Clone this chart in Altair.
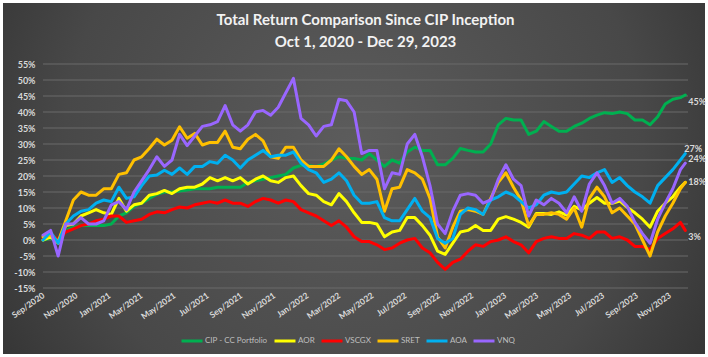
import altair as alt
import pandas as pd

# ---------------- data ----------------
dates = pd.date_range("2020-09-30", periods=85, freq="14D").strftime("%Y-%m-%dT00:00:00").tolist() + ["2023-12-29T00:00:00"]

series_names = ["CIP - CC Portfolio", "AOR", "VSCGX", "SRET", "AOA", "VNQ"]
series_colors = ["#00b050", "#ffff00", "#ff0000", "#ffc000", "#00b0f0", "#9966ff"]

cip = [0, 0.5, -0.5, 3, 4, 4.5, 4.5, 4.5, 4.5, 5, 7.5, 8.5, 10.5, 11.5, 13, 14.3, 15, 15, 15.3, 15.6, 16, 16,
       16, 16.5, 16.5, 16.5, 16.5, 18, 18.5, 19, 19.5, 20, 20.5, 22.5, 23.3, 23.3, 22.9, 23.8, 25, 26, 25.5, 25.5, 25,
       27, 25, 23, 25, 24, 27.5, 29, 28, 28, 23.5, 23.5, 25.5, 28.6, 28, 27.5, 27.5, 30, 36, 38, 37.5, 37.5,
       33, 34, 37, 35.5, 34, 34, 35.5, 36.5, 38, 39, 39.8, 39.5, 40, 39.5, 37.5, 37.5, 36, 38.5, 42.5, 44, 44.5, 45.3]

aor = [0, 1, -1, 4.5, 5, 7.5, 8.5, 9.5, 8.5, 8, 13, 9, 11, 11.5, 14, 14.5, 15.5, 14.5, 16, 16.5, 16.5, 17.5,
       19.5, 18.5, 19.5, 18.5, 19.5, 17.5, 19, 20, 18.5, 18, 19.5, 20, 17, 14.5, 14, 12, 11, 14.5, 12, 8.5, 5.5,
       5.5, 5, 1, 2.5, 3, 7, 7, 4.5, 1.5, -3.5, -4.5, -1, 2.5, 3, 4.5, 3, 3, 6.5, 7.3, 6.5, 5.5,
       4, 8.3, 8.3, 8, 8.8, 7.8, 10.5, 9.4, 11.5, 13.3, 11.5, 11.5, 12.2, 10.2, 8.5, 6.5, 4, 9, 11.5, 13.5, 16.5, 18]

vscgx = [0.5, 2, 0, 2.5, 3.5, 4.5, 5, 6, 6.5, 7.5, 7.5, 5.5, 6, 6.5, 8, 8.8, 8.5, 9.5, 10.3, 10, 11, 11.5,
         12, 11.5, 12.5, 11.5, 11.5, 10.5, 12, 13, 12.5, 11.5, 12.5, 12, 9.5, 8.5, 7.5, 6, 4.5, 6, 4, 1, -0.5,
         -0.5, -1.5, -3, -2.5, -1, 0, 0.5, -2.5, -4, -7, -9.2, -7, -6, -3.5, -1.5, -2, -0.5, 0, 1, -0.5, -1.5,
         -4, -0.5, 0.5, 1, 0.5, 0.5, 2, 1.5, 0.5, 2.5, 2.5, 0.5, 1, 0, -2, -2, -3, 0.5, 2, 3.5, 5.5, 3]

sret = [1, 1.5, -0.5, 6, 12.5, 15, 14, 14, 16, 16, 20.5, 21, 25, 26, 28.6, 31.5, 29.7, 31.2, 35.4, 31.8, 33.3, 29.7,
        30.5, 30.5, 34, 29, 28.5, 31.5, 33, 31, 26, 25.5, 29, 29, 25, 23, 23, 23, 25, 28.5, 26, 23, 20.5,
        22, 19, 9, 16, 16.5, 22, 21, 19, 13, 1, -2.5, 4, 9, 9.5, 9, 8, 13, 18, 21, 16.5, 12.5,
        4.5, 8, 8, 8.5, 8, 6.5, 10, 4, 13, 16.5, 13.5, 8.5, 10, 7.5, 5, 0, -5, 2.5, 7.5, 11.5, 16, 18]

aoa = [0, 2.5, -1, 5, 7.5, 9, 9.5, 11.5, 12.5, 12, 16.5, 13, 13.5, 17, 20, 20.3, 21.8, 20.5, 22.5, 20.5, 23, 23,
       24.5, 24, 26.5, 25, 22.5, 25, 26.5, 28, 26, 26.5, 26.5, 27.5, 24, 22, 21, 18, 19, 21, 18.5, 14, 11.5,
       11.5, 12, 7, 6, 6, 9.5, 13, 9, 7, 0.5, -1, 0.5, 8, 10, 9.5, 8, 12.5, 13.5, 15, 14, 12,
       10, 11, 14, 15, 14.5, 15, 17.5, 20, 19.5, 21, 22, 18, 19.5, 17, 15, 13.5, 11.5, 17, 19.5, 22, 25, 27]

vnq = [1.5, 3, -5, 5, 5, 7, 5, 5, 6, 11, 12, 9.5, 15, 18.5, 22, 26, 23, 25, 33, 29.5, 32.5, 35.5,
       36, 37, 42, 36, 34, 36, 40, 40.5, 39, 41.5, 46, 50.5, 38, 36, 32.5, 35.5, 36, 44, 43.5, 40, 27,
       28, 28, 16, 21, 20.5, 30, 33, 26, 17, 5, 2, 9, 14, 14.5, 14, 11.5, 12.5, 19, 23.5, 19, 17,
       7.5, 12.5, 11, 13, 11.5, 8.5, 13.5, 9, 17.5, 21, 17, 11.5, 13, 10.5, 5.5, 2, -1, 6.5, 11.5, 16, 22, 24]

series_values = [cip, aor, vscgx, sret, aoa, vnq]

y_ticks = [-15, -10, -5, 0, 5, 10, 15, 20, 25, 30, 35, 40, 45, 50, 55]
x_tick_months = [(2020, 9), (2020, 11), (2021, 1), (2021, 3), (2021, 5), (2021, 7), (2021, 9), (2021, 11),
                 (2022, 1), (2022, 3), (2022, 5), (2022, 7), (2022, 9), (2022, 11),
                 (2023, 1), (2023, 3), (2023, 5), (2023, 7), (2023, 9), (2023, 11)]

title_lines = ["Total Return Comparison Since CIP Inception", "Oct 1, 2020 - Dec 29, 2023"]

# end-of-line labels: series, (dx, dy) styling
end_labels = ["CIP - CC Portfolio", "AOA", "VNQ", "SRET", "VSCGX"]
end_label_offsets = [(3, 7), (-1, -5), (3, -4), (3, 0), (3, 7)]

# ---------------- table ----------------
rows = []
for name, vals in zip(series_names, series_values):
    assert len(vals) == len(dates), (name, len(vals))
    for i, (d, v) in enumerate(zip(dates, vals)):
        rows.append({"date": d, "series": name, "value": v, "is_last": i == len(dates) - 1})
df = pd.DataFrame(rows)

# ---------------- layout ----------------
W, H = 645, 224
PAD_L, PAD_T, PAD_R, PAD_B = 43, 64, 20, 69
FONT = "Lato"
LABEL_COLOR = "#d9d9d9"

x_scale = alt.Scale(domain=[alt.DateTime(year=2020, month=9, date=30),
                            alt.DateTime(year=2024, month=1, date=3)])
y_scale = alt.Scale(domain=[-15, 55], nice=False, zero=False)
color_scale = alt.Scale(domain=series_names, range=series_colors)

x_axis = alt.Axis(
    values=[alt.DateTime(year=yy, month=mm, date=30) for yy, mm in x_tick_months],
    format="%b/%Y", labelAngle=325, labelAlign="right", labelBaseline="middle",
    labelPadding=6, ticks=False, domain=False, grid=False, title=None,
    labelColor=LABEL_COLOR, labelFont=FONT, labelFontWeight="bold", labelFontSize=8.5,
    labelOverlap=False, labelFlush=False, zindex=1,
)
y_axis = alt.Axis(
    values=y_ticks, labelExpr="datum.value + '%'", ticks=False, domain=False, grid=False,
    title=None, labelPadding=8, labelColor=LABEL_COLOR, labelFont=FONT,
    labelFontWeight="bold", labelFontSize=9, zindex=1,
)
legend = alt.Legend(
    orient="none", legendX=137, legendY=265, direction="horizontal", title=None,
)

gradient = alt.RadialGradient(
    gradient="radial", x1=0.5, y1=0.45, x2=0.5, y2=0.45, r1=0, r2=0.75,
    stops=[alt.GradientStop(offset=0, color="#5c5c5c"),
           alt.GradientStop(offset=0.55, color="#484848"),
           alt.GradientStop(offset=1, color="#242424")],
)

bg = alt.Chart(alt.Data(values=[{"k": 1}])).mark_rect(fill=gradient, strokeWidth=0).encode(
    x=alt.value(3 - PAD_L), x2=alt.value(705 - PAD_L),
    y=alt.value(3 - PAD_T), y2=alt.value(354 - PAD_T),
)

grid = alt.Chart(pd.DataFrame({"tick": y_ticks})).mark_rule(color="#6a6a6a", strokeWidth=1).encode(
    y=alt.Y("tick:Q", scale=y_scale, axis=y_axis),
    x=alt.value(0), x2=alt.value(W),
)

layers = [bg, grid]
for name in series_names:
    layers.append(
        alt.Chart(df).transform_filter(alt.datum.series == name).mark_line(
            strokeWidth=3, strokeJoin="round", strokeCap="round"
        ).encode(
            x=alt.X("date:T", scale=x_scale, axis=x_axis),
            y=alt.Y("value:Q", scale=y_scale, axis=y_axis),
            color=alt.Color("series:N", scale=color_scale, legend=legend),
        )
    )

for name, (ddx, ddy) in zip(end_labels, end_label_offsets):
    layers.append(
        alt.Chart(df).transform_filter(
            (alt.datum.series == name) & alt.datum.is_last
        ).transform_calculate(
            label="format(datum.value, '.0f') + '%'"
        ).mark_text(
            align="left", baseline="middle", dx=ddx, dy=ddy, font=FONT, fontSize=9,
            fontWeight="bold", color=LABEL_COLOR,
        ).encode(
            x=alt.X("date:T", scale=x_scale, axis=x_axis),
            y=alt.Y("value:Q", scale=y_scale, axis=y_axis),
            text="label:N",
        )
    )

chart = alt.layer(*layers).properties(
    width=W, height=H,
    autosize=alt.AutoSizeParams(type="none"),
    padding={"left": PAD_L, "top": PAD_T, "right": PAD_R, "bottom": PAD_B},
    background="white",
    title=alt.Title(
        title_lines, anchor="middle", color="#f2f2f2", font=FONT, fontSize=15,
        fontWeight="bold", lineHeight=22, offset=-47, zindex=1,
    ),
).configure_view(stroke=None).configure_legend(
    symbolType="stroke", symbolStrokeWidth=3, symbolSize=441, labelColor="#bfbfbf",
    labelFont=FONT, labelFontSize=8, labelOffset=1, columnPadding=0, padding=0,
    zindex=1, gridAlign="none",
)

chart.save("out.html", embed_options={"renderer": "svg", "actions": False})
